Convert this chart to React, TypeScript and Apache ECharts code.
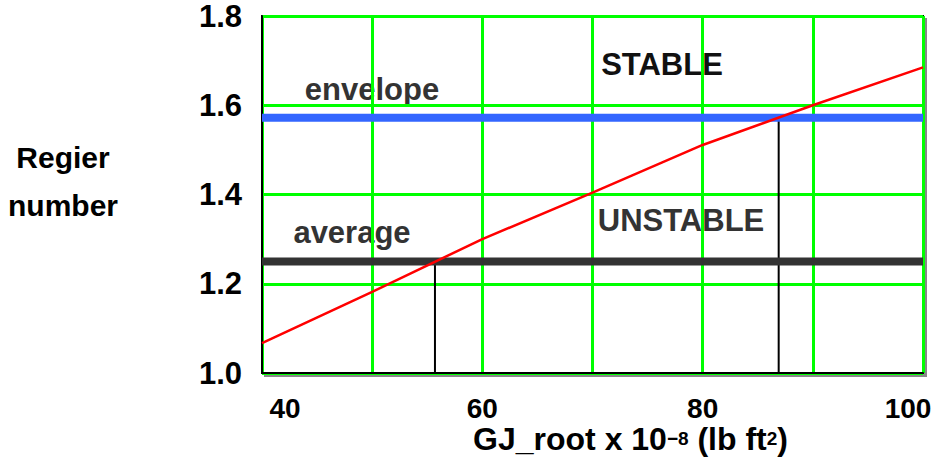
import React, { useEffect, useRef } from "react";
import * as echarts from "echarts";

const xValues = [40, 50, 60, 70, 80, 90, 100];
const regierValues = [1.067, 1.182, 1.3, 1.404, 1.511, 1.6, 1.685];
const envelopeValue = 1.572;
const averageValue = 1.25;
const averageCrossX = 55.7;
const envelopeCrossX = 86.9;
const xRange = [40, 100];
const yRange = [1.0, 1.8];

const narrow = "'Liberation Sans Narrow', 'Arial Narrow', 'Liberation Sans', Arial, sans-serif";
const sans = "'Liberation Sans', Arial, Helvetica, sans-serif";

export default function App() {
  const ref = useRef<HTMLDivElement>(null);
  useEffect(() => {
    if (!ref.current) return;
    const chart = echarts.init(ref.current, undefined, { renderer: "svg" });
    const labelStyle = { fontFamily: narrow, fontWeight: "bold", fontSize: 28, lineHeight: 28, color: "#000" };
    const option: any = {
      animation: false,
      backgroundColor: "#fff",
      grid: {
        left: 262,
        right: 15,
        top: 16,
        bottom: 88,
        outerBoundsMode: "none",
        containLabel: false,
        show: true,
        borderColor: "#000",
        borderWidth: 2,
        backgroundColor: "#fff",
        shadowColor: "#888",
        shadowOffsetX: 3,
        shadowOffsetY: 3,
        shadowBlur: 0,
      },
      xAxis: {
        type: "value",
        min: xRange[0],
        max: xRange[1],
        interval: 10,
        axisLine: { show: true, lineStyle: { color: "#000", width: 2 } },
        axisTick: { show: false },
        splitLine: { show: true, lineStyle: { color: "#00ff00", width: 3 } },
        axisLabel: {
          margin: 21,
          formatter: (v: number) => {
            if ((v - 40) % 20 !== 0) return "";
            if (v === 40) return "{first|40}";
            if (v === 100) return "{last|100}";
            return "{n|" + v + "}";
          },
          rich: {
            n: { ...labelStyle },
            first: { ...labelStyle, padding: [0, 0, 0, 46] },
            last: { ...labelStyle, padding: [0, 30, 0, 0] },
          },
        },
        name: "{m|GJ_root x 10}{s|−8}{m| (lb ft}{s|2}{m|)}",
        nameLocation: "middle",
        nameGap: 56,
        nameMoveOverlap: false,
        nameTextStyle: {
          padding: [0, 0, 0, 76],
          rich: {
            m: { fontFamily: narrow, fontWeight: "bold", fontSize: 32, color: "#000", lineHeight: 26, verticalAlign: "bottom" },
            s: { fontFamily: narrow, fontWeight: "bold", fontSize: 19, color: "#000", lineHeight: 26, verticalAlign: "top", padding: [0, 0, 12, 0] },
          },
        },
      },
      yAxis: {
        type: "value",
        min: yRange[0],
        max: yRange[1],
        interval: 0.2,
        axisLine: { show: true, lineStyle: { color: "#000", width: 2 } },
        axisTick: { show: false },
        splitLine: { show: true, lineStyle: { color: "#00ff00", width: 3 } },
        axisLabel: {
          margin: 20,
          fontFamily: sans,
          fontWeight: "bold",
          fontSize: 31,
          color: "#000",
          formatter: (v: number) => v.toFixed(1),
        },
      },
      graphic: [
        { type: "text", x: 63, y: 157, style: { text: "Regier", font: "bold 30px " + sans, fill: "#000", align: "center", verticalAlign: "middle" } },
        { type: "text", x: 63, y: 205, style: { text: "number", font: "bold 30px " + sans, fill: "#000", align: "center", verticalAlign: "middle" } },
        { type: "text", x: 372, y: 89, style: { text: "envelope", font: "bold 31px " + sans, fill: "#333", align: "center", verticalAlign: "middle" } },
        { type: "text", x: 662, y: 64, style: { text: "STABLE", font: "bold 31px " + sans, fill: "#111", align: "center", verticalAlign: "middle" } },
        { type: "text", x: 352, y: 232, style: { text: "average", font: "bold 31px " + sans, fill: "#333", align: "center", verticalAlign: "middle" } },
        { type: "text", x: 681, y: 220, style: { text: "UNSTABLE", font: "bold 31px " + sans, fill: "#333", align: "center", verticalAlign: "middle" } },
      ],
      series: [
        {
          type: "line",
          data: [[averageCrossX, yRange[0]], [averageCrossX, averageValue]],
          symbol: "none",
          lineStyle: { color: "#000", width: 2 },
          z: 3,
        },
        {
          type: "line",
          data: [[envelopeCrossX, yRange[0]], [envelopeCrossX, envelopeValue]],
          symbol: "none",
          lineStyle: { color: "#000", width: 2 },
          z: 3,
        },
        {
          type: "line",
          data: [[xRange[0], averageValue], [xRange[1], averageValue]],
          symbol: "none",
          lineStyle: { color: "#333333", width: 8 },
          z: 4,
        },
        {
          type: "line",
          data: [[xRange[0], envelopeValue], [xRange[1], envelopeValue]],
          symbol: "none",
          lineStyle: { color: "#3366ff", width: 8 },
          z: 4,
        },
        {
          type: "line",
          data: xValues.map((x, i) => [x, regierValues[i]]),
          symbol: "none",
          lineStyle: { color: "#ff0000", width: 2.5 },
          z: 5,
        },
      ],
    };
    chart.setOption(option);
    return () => chart.dispose();
  }, []);
  return (
    <div style={{ position: "fixed", left: 0, top: 0, width: 938, height: 461, background: "#fff" }}>
      <div ref={ref} style={{ width: 938, height: 461 }} />
    </div>
  );
}
